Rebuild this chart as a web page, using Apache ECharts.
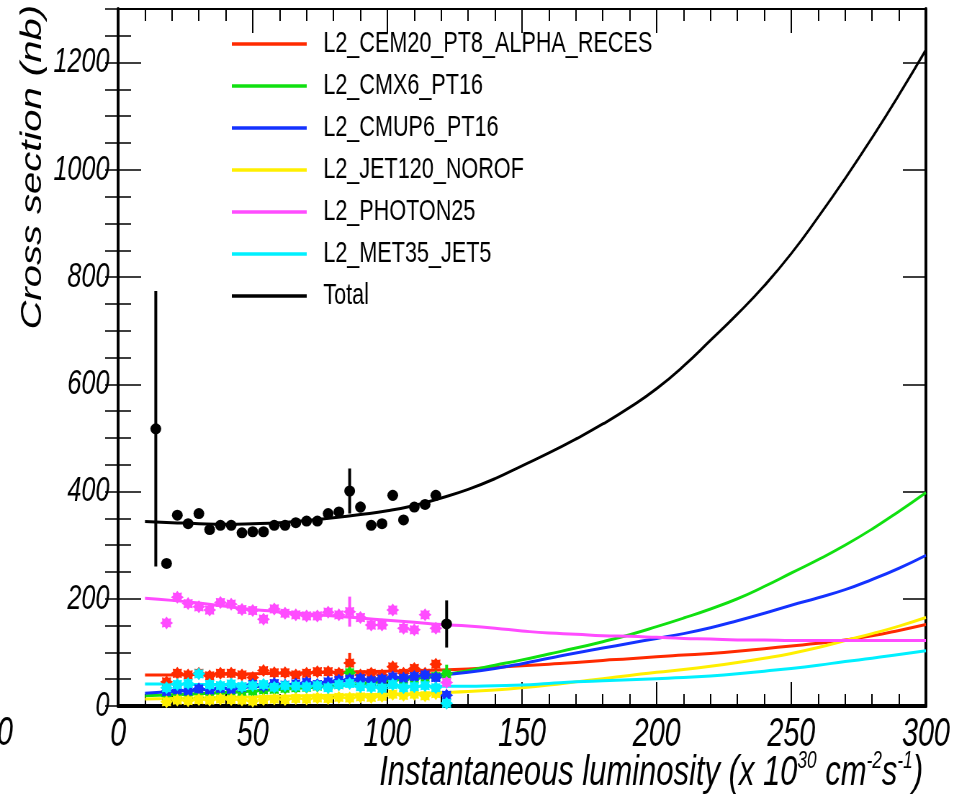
<!DOCTYPE html>
<html>
<head>
<meta charset="utf-8">
<script src="https://cdn.jsdelivr.net/npm/echarts@6/dist/echarts.min.js"></script>
<style>
  html, body { margin: 0; padding: 0; background: #fff; overflow: hidden; }
  /* the reference is squeezed horizontally, so the whole chart is drawn wide and scaled */
  #chart { width: 1343px; height: 795px; transform: scaleX(0.72); transform-origin: 0 0; }
</style>
</head>
<body>
<div id="chart"></div>
<script>
const SX = 0.72;
const FONT = '"Liberation Sans", Arial, sans-serif';

// bin centres of the measured points
const lumiBins = [14, 18, 22, 26, 30, 34, 38, 42, 46, 50, 54, 58, 62, 66, 70, 74, 78, 82, 86, 90, 94, 98, 102, 106, 110, 114, 118, 122];

const totalPts = [517, 266, 356, 340, 359, 329, 337, 337, 323, 325, 325, 337, 337, 342, 345, 345, 359, 362, 401, 371, 337, 340, 393, 347, 371, 376, 393, 153];
const totalErr = [257, 8, 8, 8, 8, 8, 8, 8, 8, 8, 8, 8, 8, 8, 8, 8, 8, 8, 42, 10, 8, 8, 10, 8, 8, 8, 10, 44];
const cemPts = [null, 45, 61, 58, 61, 56, 61, 61, 58, 53, 66, 62, 62, 58, 61, 64, 64, 61, 80, 58, 61, 58, 73, 61, 70, 61, 78, null];
const cemErr = [0, 4, 4, 4, 4, 4, 4, 4, 4, 4, 4, 4, 4, 4, 4, 4, 4, 4, 19, 4, 4, 4, 5, 4, 5, 4, 6, 0];
const cmxPts = [null, 19, 21, 22, 23, 24, 25, 26, 27, 28, 30, 31, 33, 34, 35, 37, 38, 40, 62, 42, 44, 46, 48, 49, 51, 53, 55, 60];
const cmxErr = [0, 3, 3, 3, 3, 3, 3, 3, 3, 3, 3, 3, 3, 3, 3, 3, 3, 3, 8, 3, 3, 3, 3, 3, 3, 3, 3, 17];
const cmupPts = [null, 27, 30, 28, 32, 30, 33, 31, 35, 40, 37, 42, 39, 41, 44, 40, 45, 48, 50, 51, 47, 50, 54, 52, 55, 58, 53, 20];
const jetPts = [null, 8, 11, 10, 12, 11, 13, 12, 11, 9, 12, 13, 12, 14, 13, 15, 14, 16, 15, 17, 16, 18, 22, 20, 22, 19, 23, null];
const photonPts = [null, 155, 203, 191, 185, 179, 193, 190, 180, 178, 162, 181, 173, 170, 168, 168, 175, 170, 176, 165, 151, 151, 179, 145, 142, 170, 145, 44];
const photonErr = [0, 6, 6, 6, 6, 6, 6, 6, 6, 6, 6, 6, 6, 6, 6, 6, 6, 6, 28, 6, 6, 6, 6, 6, 6, 6, 6, 8];
const metPts = [null, 34, 40, 42, 60, 40, 38, 41, 36, 38, 40, 35, 38, 37, 36, 38, 34, 40, 42, 36, 35, 33, 40, 34, 36, 38, 34, 5];

// fitted curves, sampled every 10 units of luminosity
const fitLumi = [10, 20, 30, 40, 50, 60, 70, 80, 90, 100, 110, 120, 130, 140, 150, 160, 170, 180, 190, 200, 210, 220, 230, 240, 250, 260, 270, 280, 290, 300];
const totalFit = [344, 342, 340, 339, 340, 342, 346, 351, 357, 364, 374, 388, 404, 424, 448, 472, 498, 526, 557, 592, 634, 682, 731, 784, 844, 912, 984, 1060, 1140, 1224];
const cemFit = [58, 58, 59, 59, 60, 61, 62, 63, 64, 65, 66, 67, 69, 72, 75, 78, 81, 85, 88, 92, 95, 98, 102, 107, 112, 117, 123, 131, 141, 152];
const cmxFit = [19, 21, 23, 25, 28, 31, 34, 38, 42, 47, 52, 58, 66, 76, 86, 97, 108, 120, 133, 148, 164, 181, 200, 223, 248, 273, 300, 330, 363, 398];
const cmupFit = [24, 27, 30, 33, 36, 39, 42, 45, 49, 52, 55, 58, 63, 70, 79, 89, 99, 108, 117, 126, 135, 146, 159, 173, 188, 202, 217, 236, 257, 281];
const jetFit = [13, 14, 15, 16, 17, 18, 19, 20, 21, 22, 23, 25, 27, 30, 34, 39, 45, 51, 57, 63, 68, 74, 81, 89, 98, 109, 122, 135, 149, 165];
const photonFit = [201, 197, 192, 186, 180, 176, 172, 168, 164, 160, 156, 152, 149, 145, 140, 136, 134, 131, 130, 128, 126, 125, 123, 123, 122, 122, 122, 122, 122, 122];
const metFit = [41, 41, 40, 40, 39, 39, 39, 38, 38, 38, 37, 37, 37, 38, 39, 42, 45, 47, 49, 51, 53, 56, 60, 65, 70, 76, 83, 89, 96, 103];

const triggers = [
  {name: 'L2_CEM20_PT8_ALPHA_RECES', color: '#ff2a00', pts: cemPts, err: cemErr, fit: cemFit},
  {name: 'L2_CMX6_PT16', color: '#10e010', pts: cmxPts, err: cmxErr, fit: cmxFit},
  {name: 'L2_CMUP6_PT16', color: '#1432ff', pts: cmupPts, err: null, fit: cmupFit},
  {name: 'L2_JET120_NOROF', color: '#ffef00', pts: jetPts, err: null, fit: jetFit},
  {name: 'L2_PHOTON25', color: '#ff4cff', pts: photonPts, err: photonErr, fit: photonFit},
  {name: 'L2_MET35_JET5', color: '#00f0ff', pts: metPts, err: null, fit: metFit},
  {name: 'Total', color: '#000000', pts: totalPts, err: totalErr, fit: totalFit}
];

const star = 'path://M5 0 L6.34 1.77 L8.54 1.46 L8.23 3.66 L10 5 L8.23 6.34 L8.54 8.54 L6.34 8.23 L5 10 L3.66 8.23 L1.46 8.54 L1.77 6.34 L0 5 L1.77 3.66 L1.46 1.46 L3.66 1.77 Z';

function points(vals) {
  const out = [];
  lumiBins.forEach((x, i) => { if (vals[i] != null) out.push([x, vals[i]]); });
  return out;
}

function errorBars(vals, errs, color) {
  const data = [];
  lumiBins.forEach((x, i) => { if (vals[i] != null && errs[i]) data.push([x, vals[i], errs[i]]); });
  return {
    type: 'custom',
    data: data,
    encode: {x: 0, y: 1},
    z: 3,
    renderItem: function (params, api) {
      const x = api.value(0), y = api.value(1), e = api.value(2);
      const a = api.coord([x, y + e]);
      const b = api.coord([x, y - e]);
      return {type: 'line', shape: {x1: a[0], y1: a[1], x2: b[0], y2: b[1]}, style: {stroke: color, lineWidth: 4}};
    }
  };
}

const series = [];
triggers.forEach(t => {
  const isTotal = t.name === 'Total';
  series.push({
    name: t.name,
    type: 'line',
    data: fitLumi.map((x, i) => [x, t.fit[i]]),
    showSymbol: false,
    smooth: true,
    color: t.color,
    lineStyle: {color: t.color, width: 3},
    z: isTotal ? 4 : 2
  });
  if (t.err) series.push(errorBars(t.pts, t.err, t.color));
  series.push({
    name: t.name,
    type: 'scatter',
    data: points(t.pts),
    symbol: isTotal ? 'circle' : star,
    symbolSize: isTotal ? [15, 11] : [18, 13],
    color: t.color,
    itemStyle: {color: t.color, opacity: 1},
    z: isTotal ? 5 : 3
  });
});

const tickLine = {color: '#000', width: 1.5};
const labelStyle = {fontStyle: 'italic', fontFamily: FONT, color: '#000'};

const chart = echarts.init(document.getElementById('chart'));
chart.setOption({
  animation: false,
  backgroundColor: '#fff',
  grid: {left: 164, right: 57, top: 9, bottom: 89},
  legend: {
    data: triggers.map(t => t.name),
    orient: 'vertical',
    left: 317,
    top: 24,
    icon: 'rect',
    itemWidth: 104,
    itemHeight: 3.5,
    itemGap: 12,
    textStyle: {fontSize: 30, fontFamily: FONT, color: '#000', lineHeight: 30, padding: [0, 0, 0, 18]}
  },
  xAxis: [
    {
      type: 'value', min: 0, max: 300, interval: 50, position: 'bottom',
      axisLine: {show: true, onZero: false, lineStyle: {color: '#000', width: 4}},
      axisTick: {show: true, inside: true, length: 24, lineStyle: {color: '#000', width: 2}},
      minorTick: {show: true, splitNumber: 5, length: 12, lineStyle: {color: '#000', width: 2}},
      axisLabel: Object.assign({margin: 9, fontSize: 40}, labelStyle),
      splitLine: {show: false}
    },
    {
      type: 'value', min: 0, max: 300, interval: 50, position: 'top',
      axisLine: {show: true, onZero: false, lineStyle: {color: '#000', width: 2}},
      axisTick: {show: true, inside: true, length: 24, lineStyle: {color: '#000', width: 2}},
      minorTick: {show: true, splitNumber: 5, length: 12, lineStyle: {color: '#000', width: 2}},
      axisLabel: {show: false},
      splitLine: {show: false}
    }
  ],
  yAxis: [
    {
      type: 'value', min: 0, max: 1300, interval: 200, position: 'left',
      axisLine: {show: true, onZero: false, lineStyle: {color: '#000', width: 4}},
      axisTick: {show: true, inside: true, length: 32, lineStyle: tickLine},
      axisLabel: Object.assign({margin: 12, fontSize: 35, formatter: v => (v % 200 === 0 ? String(v) : '')}, labelStyle),
      splitLine: {show: false}
    },
    {
      type: 'value', min: 0, max: 1300, interval: 200, position: 'right',
      axisLine: {show: true, onZero: false, lineStyle: {color: '#000', width: 4}},
      axisTick: {show: true, inside: true, length: 32, lineStyle: tickLine},
      axisLabel: {show: false},
      splitLine: {show: false}
    },
    {
      type: 'value', min: 0, max: 1300, interval: 50, position: 'left',
      axisLine: {show: false},
      axisTick: {show: true, inside: true, length: 18, lineStyle: tickLine},
      axisLabel: {show: false},
      splitLine: {show: false}
    },
    {
      type: 'value', min: 0, max: 1300, interval: 50, position: 'right',
      axisLine: {show: false},
      axisTick: {show: true, inside: true, length: 18, lineStyle: tickLine},
      axisLabel: {show: false},
      splitLine: {show: false}
    }
  ],
  graphic: [
    {
      type: 'text', x: 46, y: 5, rotation: Math.PI / 2,
      style: {text: 'Cross section (nb)', font: 'italic 40px ' + FONT, fill: '#000', align: 'right', verticalAlign: 'middle'}
    },
    {
      type: 'text', x: 923 / SX, y: 773,
      style: {
        text: '{a|Instantaneous luminosity (x 10}{s|30}{a| cm}{s|-2}{a|s}{s|-1}{a|)}',
        align: 'right', verticalAlign: 'middle', fill: '#000',
        rich: {
          a: {fontSize: 43, fontStyle: 'italic', fontFamily: FONT, lineHeight: 48},
          s: {fontSize: 24, fontStyle: 'italic', fontFamily: FONT, lineHeight: 24, verticalAlign: 'top'}
        }
      }
    },
    {
      type: 'text', x: 13 / SX, y: 734,
      style: {text: '0', font: 'italic 40px ' + FONT, fill: '#000', align: 'right', verticalAlign: 'middle'}
    }
  ],
  series: series
});
</script>
</body>
</html>
